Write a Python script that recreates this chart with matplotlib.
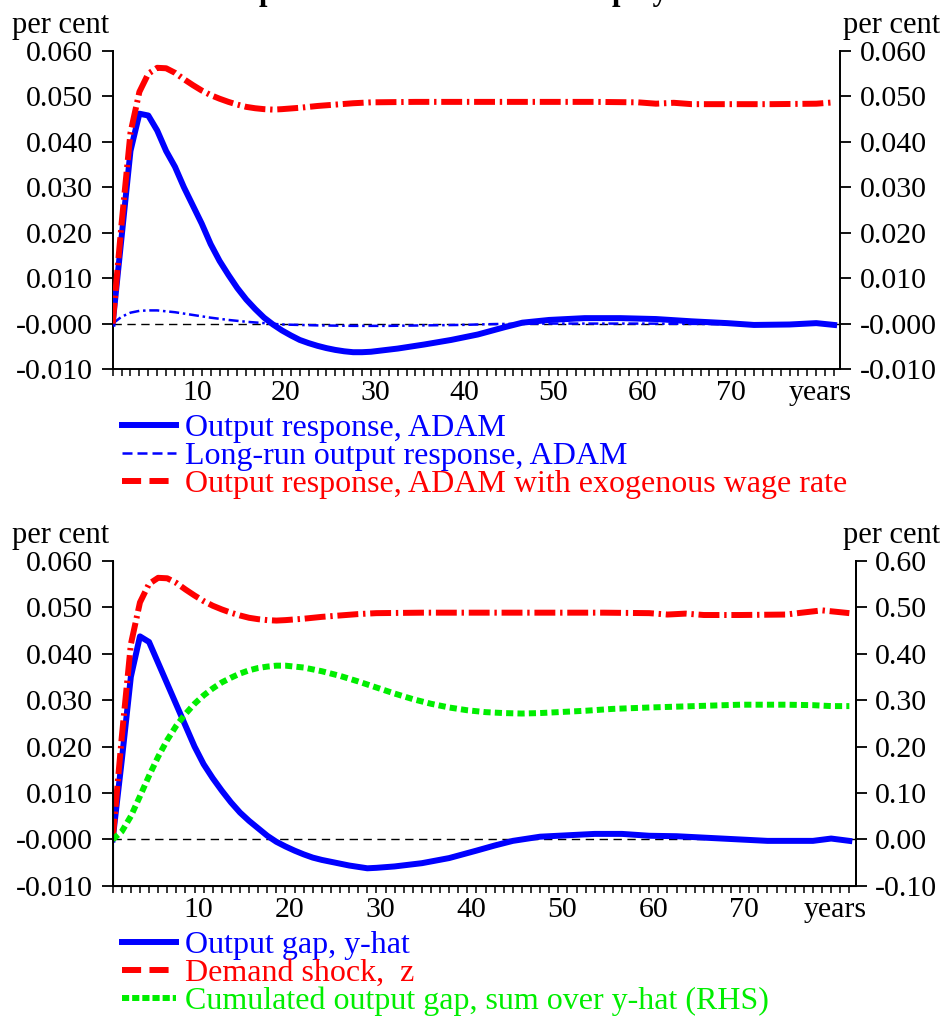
import matplotlib
matplotlib.use("Agg")
import matplotlib.pyplot as plt
import matplotlib.transforms as mtransforms
from matplotlib.lines import Line2D

plt.rcParams["font.family"] = ["Liberation Serif", "DejaVu Serif"]

# ---- top panel: output responses (per cent) ----
years_adam = [1, 2, 3, 4, 5, 6, 7, 8, 9, 10, 11, 12, 13, 14, 15, 16, 17, 18, 19, 20,
              21, 22, 23, 24, 25, 26, 27, 28, 29, 30, 33, 36, 39, 42, 45, 47, 50, 54,
              58, 62, 66, 70, 73, 77, 80, 82]
output_adam = [0.0, 0.019, 0.038, 0.0462, 0.0458, 0.0425, 0.038, 0.0345, 0.030, 0.026,
               0.022, 0.0175, 0.0138, 0.0107, 0.0078, 0.0053, 0.0032, 0.0013, -0.0002,
               -0.0015, -0.0026, -0.0036, -0.0043, -0.0049, -0.0054, -0.0058, -0.0061,
               -0.0063, -0.0063, -0.0062, -0.0055, -0.0046, -0.0036, -0.0024, -0.0008,
               0.0002, 0.0008, 0.0012, 0.0012, 0.0010, 0.0005, 0.0001, -0.0003,
               -0.0002, 0.0001, -0.0003]

years_longrun = [1, 2, 3, 4, 5, 6, 8, 10, 12, 14, 16, 18, 20, 24, 28, 32, 36, 40, 44,
                 48, 60, 70, 82]
output_longrun = [0.0, 0.0015, 0.0024, 0.0028, 0.0029, 0.0029, 0.0025, 0.0019, 0.0013,
                  0.0008, 0.0004, 0.0001, -0.0002, -0.0004, -0.0005, -0.0005, -0.0004,
                  -0.0003, -0.0001, 0.0, 0.0, -0.0001, -0.0001]

years_exo = [1, 2, 3, 4, 5, 6, 7, 8, 9, 10, 11, 12, 13, 14, 15, 16, 17, 18, 19, 20, 22,
             24, 26, 28, 30, 35, 45, 55, 60, 62, 64, 66, 70, 75, 80, 82]
output_exo_wage = [0.0, 0.022, 0.042, 0.051, 0.055, 0.0563, 0.0562, 0.0552, 0.0538,
                   0.0525, 0.0513, 0.0503, 0.0495, 0.0488, 0.0482, 0.0477, 0.0474,
                   0.0472, 0.0471, 0.0472, 0.0475, 0.0479, 0.0482, 0.0485, 0.0487,
                   0.0488, 0.0488, 0.0488, 0.0487, 0.0484, 0.0486, 0.0483, 0.0483,
                   0.0483, 0.0484, 0.0487]

# ---- bottom panel: output gap, demand shock, cumulated gap ----
years_gap = [1, 2, 3, 4, 5, 6, 7, 8, 9, 10, 11, 12, 13, 14, 15, 16, 17, 18, 19, 20, 21,
             22, 23, 24, 25, 26, 27, 28, 29, 30, 32, 35, 38, 41, 43, 45, 48, 51, 54, 57,
             60, 63, 67, 70, 73, 78, 80, 82]
output_gap = [0.0, 0.017, 0.035, 0.0437, 0.0425, 0.038, 0.0335, 0.029, 0.0245, 0.020,
              0.0162, 0.0132, 0.0105, 0.0080, 0.0058, 0.0040, 0.0024, 0.0008, -0.0005,
              -0.0015, -0.0024, -0.0032, -0.0039, -0.0044, -0.0048, -0.0052, -0.0056,
              -0.0059, -0.0062, -0.0061, -0.0058, -0.0051, -0.0040, -0.0024, -0.0013,
              -0.0003, 0.0006, 0.0009, 0.0012, 0.0012, 0.0008, 0.0007, 0.0003, 0.0,
              -0.0003, -0.0003, 0.0002, -0.0003]

years_shock = [1, 2, 3, 4, 5, 6, 7, 8, 9, 10, 11, 12, 13, 14, 15, 16, 17, 18, 19, 20,
               22, 24, 26, 28, 30, 35, 45, 55, 60, 62, 64, 66, 70, 75, 79, 80, 82]
demand_shock = [0.0, 0.022, 0.042, 0.051, 0.055, 0.0563, 0.0562, 0.0552, 0.0538, 0.0525,
                0.0513, 0.0503, 0.0495, 0.0488, 0.0482, 0.0477, 0.0474, 0.0472, 0.0471,
                0.0472, 0.0475, 0.0479, 0.0482, 0.0485, 0.0487, 0.0488, 0.0488, 0.0488,
                0.0487, 0.0484, 0.0486, 0.0483, 0.0483, 0.0484, 0.0493, 0.0491, 0.0487]

years_cum = [1, 2, 3, 4, 5, 6, 7, 8, 9, 10, 11, 12, 13, 14, 15, 16, 17, 18, 19, 20, 22,
             24, 26, 28, 30, 32, 34, 36, 38, 40, 42, 44, 46, 48, 50, 53, 56, 60, 65, 70,
             75, 78, 80, 82]
cum_gap = [0.0, 0.017, 0.050, 0.093, 0.137, 0.178, 0.214, 0.245, 0.270, 0.292, 0.310,
           0.325, 0.338, 0.348, 0.357, 0.364, 0.369, 0.372, 0.374, 0.374, 0.370, 0.362,
           0.352, 0.340, 0.327, 0.314, 0.302, 0.292, 0.284, 0.278, 0.274, 0.272, 0.271,
           0.272, 0.274, 0.277, 0.281, 0.284, 0.287, 0.290, 0.290, 0.289, 0.287, 0.287]

y_ticks = [-0.010, 0.0, 0.010, 0.020, 0.030, 0.040, 0.050, 0.060]
y_labels = ["-0.010", "-0.000", "0.010", "0.020", "0.030", "0.040", "0.050", "0.060"]
rhs_ticks = [-0.10, 0.0, 0.10, 0.20, 0.30, 0.40, 0.50, 0.60]
rhs_labels = ["-0.10", "0.00", "0.10", "0.20", "0.30", "0.40", "0.50", "0.60"]
x_ticks = list(range(1, 83))
x_labels = {10: "10", 20: "20", 30: "30", 40: "40", 50: "50", 60: "60", 70: "70",
            80: "years"}

BLUE = "#0000ff"
RED = "#ff0000"
GREEN = "#00ee00"
TICK_FS = 21.5
LEG_FS = 23
LW = 4.3

RED_DASH = (3.5, 0.8, 0.4, 0.8)
LONGRUN_DASH = (4.0, 1.5, 1.0, 1.5)
GREEN_DOT = (1.2, 0.7)


def style_axes(ax, right_labels=True):
    ax.set_xlim(1, 82.7)
    ax.set_ylim(-0.010, 0.060)
    for side in ("left", "right", "bottom"):
        ax.spines[side].set_linewidth(1.4)
    ax.spines["top"].set_visible(False)
    ax.set_yticks(y_ticks)
    ax.set_yticklabels(y_labels)
    ax.tick_params(axis="y", direction="out", length=8, width=1.3, labelsize=TICK_FS,
                   pad=6, left=True, right=right_labels, labelright=right_labels)
    ax.set_xticks(x_ticks)
    ax.set_xticklabels([x_labels.get(x, "") for x in x_ticks])
    ax.tick_params(axis="x", direction="out", length=5, width=1.1, labelsize=TICK_FS,
                   pad=3)
    # tick labels sit slightly right of their tick in the original
    shift = mtransforms.ScaledTranslation(4 / 100, 0, ax.figure.dpi_scale_trans)
    for lab in ax.get_xticklabels():
        lab.set_transform(lab.get_transform() + shift)
    ax.axhline(0, color="black", lw=1.0, dashes=(6, 4), zorder=1)


fig = plt.figure(figsize=(9.42, 10.16), dpi=100)

fig.text(0.5, 1.0, "Output effects of a shock to employment", ha="center",
         va="baseline", fontsize=22, fontweight="bold")

# ---- top panel ----
ax1 = fig.add_axes([0.1196, 0.6368, 0.7725, 0.3130])
style_axes(ax1)
l_adam, = ax1.plot(years_adam, output_adam, color=BLUE, lw=LW, zorder=3)
l_long, = ax1.plot(years_longrun, output_longrun, color=BLUE, lw=1.8,
                   dashes=LONGRUN_DASH, zorder=3)
l_exo, = ax1.plot(years_exo, output_exo_wage, color=RED, lw=LW, dashes=RED_DASH,
                  zorder=4)

fig.text(12 / 942, 1 - 33 / 1016, "per cent", ha="left", va="baseline", fontsize=22)
fig.text(940 / 942, 1 - 33 / 1016, "per cent", ha="right", va="baseline", fontsize=22)

top_handles = [
    Line2D([], [], color=BLUE, lw=LW),
    Line2D([], [], color=BLUE, lw=1.8, dashes=(4, 2)),
    Line2D([], [], color=RED, lw=LW, dashes=(3.2, 1.4)),
]
top_labels = ["Output response, ADAM", "Long-run output response, ADAM",
              "Output response, ADAM with exogenous wage rate"]
fig.legend(top_handles, top_labels, loc="upper left",
           bbox_to_anchor=(122 / 942, 1 - 414 / 1016), bbox_transform=fig.transFigure,
           frameon=False, fontsize=LEG_FS, handlelength=1.7, handletextpad=0.27,
           labelspacing=-0.05, borderpad=0, borderaxespad=0, labelcolor="linecolor")

# ---- bottom panel ----
ax2 = fig.add_axes([0.1196, 0.1280, 0.7888, 0.3202])
style_axes(ax2, right_labels=False)
ax2r = ax2.twinx()
ax2r.set_ylim(-0.10, 0.60)
ax2r.set_yticks(rhs_ticks)
ax2r.set_yticklabels(rhs_labels)
ax2r.tick_params(axis="y", direction="out", length=8, width=1.3, labelsize=TICK_FS, pad=6)
ax2r.spines["top"].set_visible(False)
ax2r.spines["right"].set_linewidth(1.4)

l_gap, = ax2.plot(years_gap, output_gap, color=BLUE, lw=LW, zorder=3)
l_shock, = ax2.plot(years_shock, demand_shock, color=RED, lw=LW, dashes=RED_DASH,
                    zorder=4)
l_cum, = ax2r.plot(years_cum, cum_gap, color=GREEN, lw=LW, dashes=GREEN_DOT)

fig.text(12 / 942, 1 - 543 / 1016, "per cent", ha="left", va="baseline", fontsize=22)
fig.text(940 / 942, 1 - 543 / 1016, "per cent", ha="right", va="baseline", fontsize=22)

bottom_handles = [
    Line2D([], [], color=BLUE, lw=LW),
    Line2D([], [], color=RED, lw=LW, dashes=(3.2, 1.4)),
    Line2D([], [], color=GREEN, lw=LW, dashes=(1.2, 0.5)),
]
bottom_labels = ["Output gap, y-hat", "Demand shock,  z",
                 "Cumulated output gap, sum over y-hat (RHS)"]
fig.legend(bottom_handles, bottom_labels, loc="upper left",
           bbox_to_anchor=(122 / 942, 1 - 931 / 1016), bbox_transform=fig.transFigure,
           frameon=False, fontsize=LEG_FS, handlelength=1.7, handletextpad=0.27,
           labelspacing=-0.05, borderpad=0, borderaxespad=0, labelcolor="linecolor")

fig.savefig("out.png", dpi=100)
